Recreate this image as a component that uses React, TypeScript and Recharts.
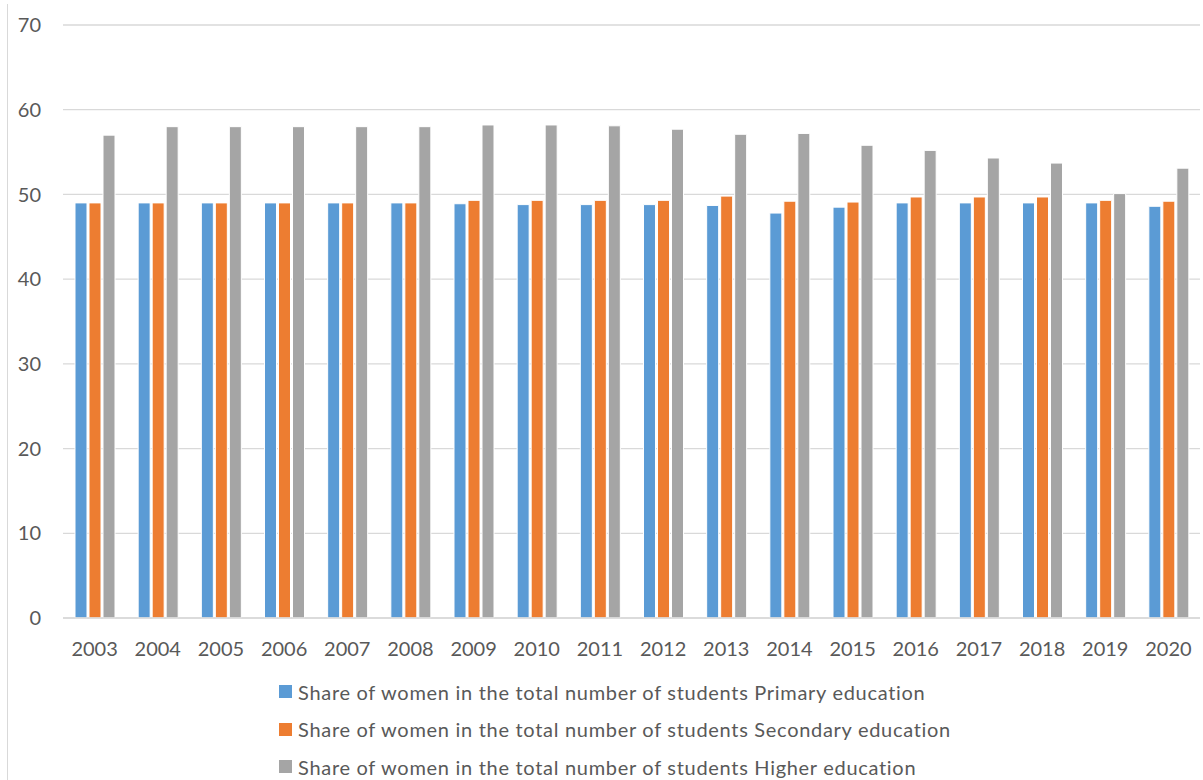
import { BarChart, Bar, XAxis, YAxis, CartesianGrid } from 'recharts';

const years = [
  '2003', '2004', '2005', '2006', '2007', '2008', '2009', '2010', '2011',
  '2012', '2013', '2014', '2015', '2016', '2017', '2018', '2019', '2020',
];

// share of women among students, %
const primary = [
  49.0, 49.0, 49.0, 49.0, 49.0, 49.0, 48.9, 48.8, 48.8,
  48.8, 48.7, 47.8, 48.5, 49.0, 49.0, 49.0, 49.0, 48.6,
];
const secondary = [
  49.0, 49.0, 49.0, 49.0, 49.0, 49.0, 49.3, 49.3, 49.3,
  49.3, 49.8, 49.2, 49.1, 49.7, 49.7, 49.7, 49.3, 49.2,
];
const higher = [
  57.0, 58.0, 58.0, 58.0, 58.0, 58.0, 58.2, 58.2, 58.1,
  57.7, 57.1, 57.2, 55.8, 55.2, 54.3, 53.7, 50.1, 53.1,
];

const yTicks = [0, 10, 20, 30, 40, 50, 60, 70];

const series = [
  { key: 'primary', name: 'Share of women in the total number of students Primary education', color: '#5B9BD5' },
  { key: 'secondary', name: 'Share of women in the total number of students Secondary education', color: '#ED7D31' },
  { key: 'higher', name: 'Share of women in the total number of students Higher education', color: '#A5A5A5' },
];

const data = years.map((year, i) => ({
  year,
  primary: primary[i],
  secondary: secondary[i],
  higher: higher[i],
}));

const FONT = 'Lato, "Open Sans", sans-serif';
const TEXT = '#595959';
const LINE = '#D9D9D9';

export default function App() {
  return (
    <div
      style={{
        position: 'absolute',
        top: 0,
        left: 0,
        width: 1203,
        height: 780,
        background: '#fff',
        fontFamily: FONT,
        fontVariantLigatures: 'none',
        overflow: 'hidden',
      }}
    >
      <div style={{ position: 'absolute', left: 7, top: 4, width: 1, height: 776, background: LINE }} />
      <BarChart
        width={1203}
        height={780}
        data={data}
        margin={{ top: 25, right: 3, left: 0, bottom: 132 }}
        barSize={12}
        barGap={2}
      >
        <CartesianGrid vertical={false} stroke={LINE} strokeWidth={1.3} />
        <XAxis
          dataKey="year"
          height={30}
          axisLine={{ stroke: LINE, strokeWidth: 1.3 }}
          tickLine={false}
          tickSize={0}
          tickMargin={24}
          interval={0}
          tick={{ fill: TEXT, fontSize: 20, fontFamily: FONT }}
        />
        <YAxis
          width={63}
          domain={[0, 70]}
          ticks={yTicks}
          axisLine={false}
          tickLine={false}
          tickSize={0}
          tickMargin={22}
          tick={{ fill: TEXT, fontSize: 20, fontFamily: FONT }}
        />
        {series.map((s) => (
          <Bar
            key={s.key}
            dataKey={s.key}
            name={s.name}
            fill={s.color}
            stroke="#fff"
            strokeWidth={1}
            isAnimationActive={false}
          />
        ))}
      </BarChart>
      {/* legend stacked under the axis */}
      <div style={{ position: 'absolute', left: 279, top: 673 }}>
        {series.map((s) => (
          <div
            key={s.key}
            style={{
              display: 'flex',
              alignItems: 'center',
              height: 37.5,
              color: TEXT,
              fontSize: 20,
              letterSpacing: 0.7,
            }}
          >
            <span style={{ width: 13, height: 13, background: s.color, marginRight: 6, flexShrink: 0 }} />
            <span style={{ whiteSpace: 'nowrap' }}>{s.name}</span>
          </div>
        ))}
      </div>
    </div>
  );
}
